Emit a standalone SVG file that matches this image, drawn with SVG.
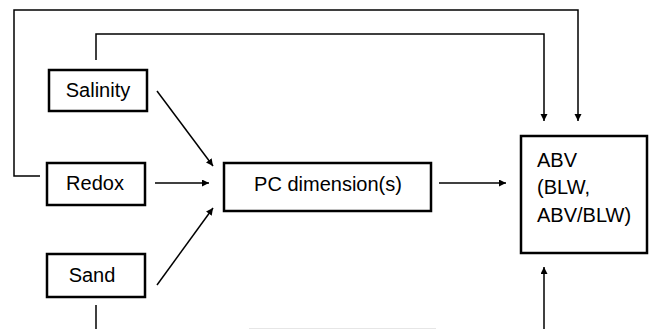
<svg xmlns="http://www.w3.org/2000/svg" width="650" height="329" viewBox="0 0 650 329">
<defs>
<style>
.box{fill:#fff;stroke:#000;stroke-width:2.5}
.lbl{font-family:"Liberation Sans",Arial,sans-serif;font-size:20px;fill:#000}
.c{text-anchor:middle}
.ln{fill:none;stroke:#000;stroke-width:1.5}
.ar{marker-end:url(#ah)}
</style>
<marker id="ah" markerUnits="userSpaceOnUse" markerWidth="8" markerHeight="8" refX="7" refY="3.5" orient="auto">
<path d="M0,0 L7,3.5 L0,7 Z" fill="#000"/>
</marker>
</defs>
<rect width="650" height="329" fill="#fff"/>
<g id="connectors">
<path class="ln ar" d="M40,176 H14 V10 H578 V121"/>
<path class="ln ar" d="M96,60 V34 H544 V121"/>
<path class="ln ar" d="M544,329 V267"/>
<path class="ln" d="M96,305 V329"/>
<path class="ln ar" d="M157,91 L213,166"/>
<path class="ln ar" d="M155,183 L209,183"/>
<path class="ln ar" d="M157,285 L213,208"/>
<path class="ln ar" d="M439,183 L506,183"/>
</g>
<line x1="249" y1="328.5" x2="436" y2="328.5" stroke="#e6e6e6" stroke-width="1"/>
<g id="salinity">
<rect class="box" x="49" y="70" width="98" height="41"/>
<text class="lbl c" x="98" y="97">Salinity</text>
</g>
<g id="redox">
<rect class="box" x="47" y="163" width="98" height="42"/>
<text class="lbl c" x="95" y="190">Redox</text>
</g>
<g id="sand">
<rect class="box" x="47" y="254" width="98" height="43"/>
<text class="lbl c" x="92" y="282">Sand</text>
</g>
<g id="pc">
<rect class="box" x="224" y="163" width="207" height="48"/>
<text class="lbl c" x="328" y="191">PC dimension(s)</text>
</g>
<g id="abv">
<rect class="box" x="521" y="136" width="126" height="117"/>
<text class="lbl" x="537" y="167">ABV</text>
<text class="lbl" x="537" y="194">(BLW,</text>
<text class="lbl" x="537" y="222">ABV/BLW)</text>
</g>
</svg>
